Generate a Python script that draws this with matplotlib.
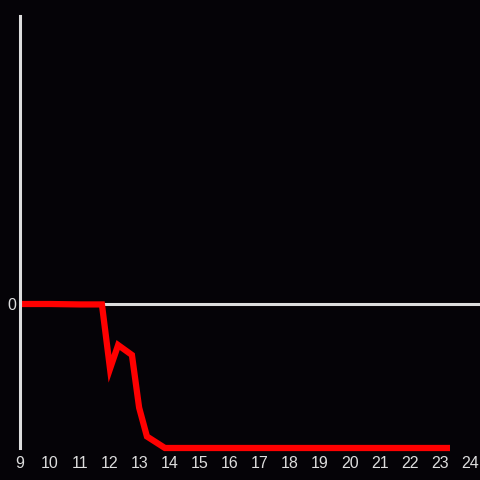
import matplotlib.pyplot as plt

plt.rcParams['font.family'] = ['Liberation Sans', 'DejaVu Sans']

# hours vs value
hours = [9.0, 10.0, 11.0, 11.73, 12.0, 12.27, 12.73, 12.97, 13.23, 13.83, 23.33]
values = [0.0, 0.0, -0.003, -0.003, -0.45, -0.285, -0.354, -0.72, -0.92, -1.0, -1.0]
xticks = list(range(9, 25))

bg = '#050307'
fg = '#dddddd'

fig = plt.figure(figsize=(4.8, 4.8), dpi=100, facecolor=bg)
ax = fig.add_axes([20 / 480, 32 / 480, 460 / 480, 432 / 480], facecolor=bg)

ax.axhline(0, color=fg, lw=2.2, zorder=1)
ax.plot(hours, values, color='#ff0000', lw=4.5, solid_joinstyle='miter',
        solid_capstyle='butt', clip_on=False, zorder=2)

ax.set_xlim(9, 24.33)
ax.set_ylim(-1, 2)
ax.set_xticks(xticks)
ax.set_yticks([0])
ax.tick_params(length=0, colors=fg, labelsize=11.5, pad=6)
ax.tick_params(axis='y', pad=3)

for s in ['top', 'right', 'bottom']:
    ax.spines[s].set_visible(False)
ax.spines['left'].set_color(fg)
ax.spines['left'].set_linewidth(2.2)

fig.savefig('out.png', dpi=100, facecolor=bg)
